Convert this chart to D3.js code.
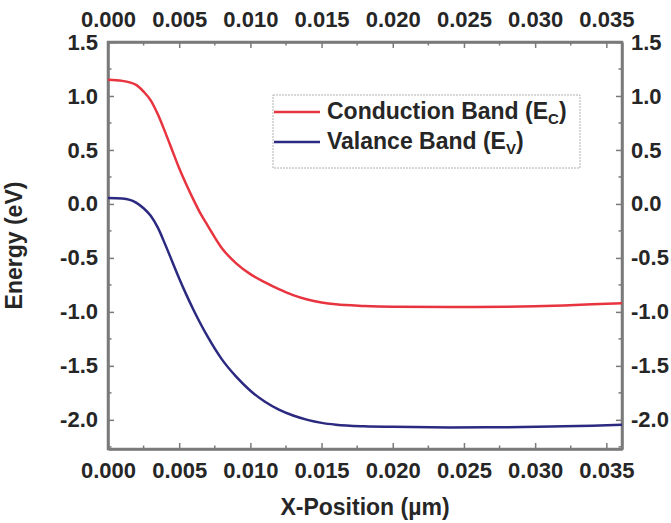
<!DOCTYPE html>
<html>
<head>
<meta charset="utf-8">
<script src="https://cdn.jsdelivr.net/npm/d3@7"></script>
<style>
  body { margin: 0; background: #fff; }
  text { font-family: "Liberation Sans", Arial, sans-serif; font-weight: bold; fill: #262626; }
</style>
</head>
<body>
<div id="chart"></div>
<script>
// values
const xPos = [0, 0.001, 0.002, 0.0025, 0.003, 0.0035, 0.004, 0.0045, 0.005, 0.0055, 0.006, 0.0065, 0.007,
  0.008, 0.009, 0.010, 0.011, 0.012, 0.013, 0.014, 0.015, 0.016, 0.018, 0.020, 0.024, 0.028, 0.032, 0.034, 0.0361];
const ec = [1.15, 1.14, 1.10, 1.04, 0.96, 0.83, 0.67, 0.50, 0.33, 0.18, 0.04, -0.09, -0.20,
  -0.41, -0.55, -0.65, -0.725, -0.79, -0.845, -0.885, -0.912, -0.93, -0.945, -0.952, -0.955, -0.952, -0.94, -0.93, -0.92];
const ev = [0.055, 0.05, 0.01, -0.04, -0.11, -0.22, -0.37, -0.53, -0.69, -0.84, -0.98, -1.11, -1.23,
  -1.44, -1.60, -1.73, -1.83, -1.905, -1.96, -2.00, -2.028, -2.045, -2.06, -2.065, -2.07, -2.068, -2.06, -2.055, -2.045];
const xTicks = [0, 0.005, 0.010, 0.015, 0.020, 0.025, 0.030, 0.035];
const yTicks = [1.5, 1.0, 0.5, 0.0, -0.5, -1.0, -1.5, -2.0];

const W = 671, H = 523;
const margin = { top: 42, right: 49, bottom: 74, left: 108 };
const width = W - margin.left - margin.right;
const height = H - margin.top - margin.bottom;

const x = d3.scaleLinear().domain([0, 0.0361]).range([0, width]);
const y = d3.scaleLinear().domain([-2.27, 1.5]).range([height, 0]);

const svg = d3.select("#chart").append("svg")
    .attr("width", W)
    .attr("height", H)
  .append("g")
    .attr("transform", `translate(${margin.left},${margin.top})`);

// minor ticks
const xMinor = d3.range(0.0025, 0.036, 0.005);
const yMinor = d3.range(-2.25, 1.5, 0.5);

function styleAxis(g) {
  g.select(".domain").attr("stroke", "#7a7a7a").attr("stroke-width", 2.5);
  g.selectAll(".tick line").attr("stroke", "#7a7a7a").attr("stroke-width", 1.5);
  g.selectAll(".tick text").style("font-size", "22px");
}

const fmt = d3.format(".3f");
const fmtY = v => d3.format(".1f")(v).replace("−", "-");

svg.append("g")
  .attr("transform", `translate(0,${height})`)
  .call(d3.axisBottom(x).tickValues(xTicks).tickFormat(fmt).tickSizeInner(-6).tickSizeOuter(0).tickPadding(13))
  .call(styleAxis);
svg.append("g")
  .call(d3.axisTop(x).tickValues(xTicks).tickFormat(fmt).tickSizeInner(-6).tickSizeOuter(0).tickPadding(15))
  .call(styleAxis);
svg.append("g")
  .call(d3.axisLeft(y).tickValues(yTicks).tickFormat(fmtY).tickSizeInner(-6).tickSizeOuter(0).tickPadding(10))
  .call(styleAxis);
svg.append("g")
  .attr("transform", `translate(${width},0)`)
  .call(d3.axisRight(y).tickValues(yTicks).tickFormat(fmtY).tickSizeInner(-6).tickSizeOuter(0).tickPadding(9))
  .call(styleAxis);

// minor ticks on all four sides
[[0, -1], [height, 1]].forEach(([yy, d]) => {
  svg.selectAll(null).data(xMinor).enter().append("line")
    .attr("x1", v => x(v)).attr("x2", v => x(v))
    .attr("y1", yy).attr("y2", yy + d * -3.5)
    .attr("stroke", "#7a7a7a").attr("stroke-width", 1.5);
});
[[0, 1], [width, -1]].forEach(([xx, d]) => {
  svg.selectAll(null).data(yMinor).enter().append("line")
    .attr("y1", v => y(v)).attr("y2", v => y(v))
    .attr("x1", xx).attr("x2", xx + d * 3.5)
    .attr("stroke", "#7a7a7a").attr("stroke-width", 1.5);
});

// frame
svg.append("rect").attr("width", width).attr("height", height)
  .attr("fill", "none").attr("stroke", "#7a7a7a").attr("stroke-width", 2.5);

// lines
const line = d3.line().x((d, i) => x(xPos[i])).y(d => y(d)).curve(d3.curveMonotoneX);

svg.append("path").datum(ec)
  .attr("fill", "none").attr("stroke", "#e8343f").attr("stroke-width", 2.5)
  .attr("d", line);
svg.append("path").datum(ev)
  .attr("fill", "none").attr("stroke", "#2b2a80").attr("stroke-width", 2.5)
  .attr("d", line);

// axis titles
svg.append("text")
  .attr("x", width / 2).attr("y", height + 66)
  .attr("text-anchor", "middle").style("font-size", "23px")
  .text("X-Position (µm)");
svg.append("text")
  .attr("transform", `translate(${-86},${height / 2}) rotate(-90)`)
  .attr("text-anchor", "middle").style("font-size", "23px")
  .text("Energy (eV)");

// legend
const legend = svg.append("g").attr("transform", `translate(${273 - margin.left},${95 - margin.top})`);
legend.append("rect").attr("width", 307).attr("height", 73)
  .attr("fill", "none").attr("stroke", "#b0b0b0").attr("stroke-width", 1)
  .attr("stroke-dasharray", "2,1");
const items = [
  { name: "Conduction Band (E", sub: "C", color: "#e8343f" },
  { name: "Valance Band (E", sub: "V", color: "#2b2a80" }
];
items.forEach((d, i) => {
  const yy = 17 + i * 30;
  legend.append("line").attr("x1", 1).attr("x2", 47).attr("y1", yy).attr("y2", yy)
    .attr("stroke", d.color).attr("stroke-width", 2.5);
  const t = legend.append("text").attr("x", 54).attr("y", yy + 7).style("font-size", "23px");
  t.append("tspan").text(d.name);
  t.append("tspan").attr("dy", 5).style("font-size", "15px").text(d.sub);
  t.append("tspan").attr("dy", -5).text(")");
});
</script>
</body>
</html>
